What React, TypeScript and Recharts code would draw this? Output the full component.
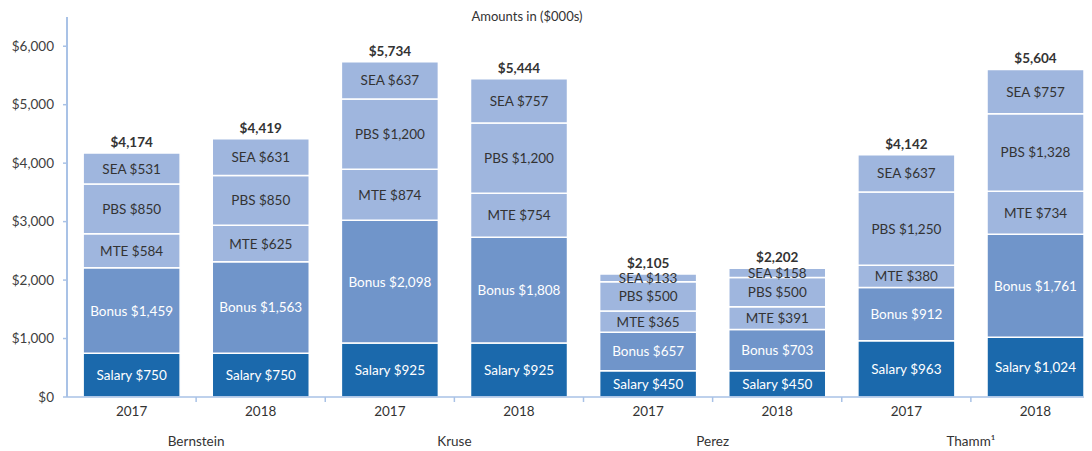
import React from 'react'
import { Bar, BarChart, LabelList, XAxis, YAxis } from 'recharts'

const groups = ['Bernstein', 'Bernstein', 'Kruse', 'Kruse', 'Perez', 'Perez', 'Thamm¹', 'Thamm¹']
const years = ['2017', '2018', '2017', '2018', '2017', '2018', '2017', '2018']

const salary = [750, 750, 925, 925, 450, 450, 963, 1024]
const bonus = [1459, 1563, 2098, 1808, 657, 703, 912, 1761]
const mte = [584, 625, 874, 754, 365, 391, 380, 734]
const pbs = [850, 850, 1200, 1200, 500, 500, 1250, 1328]
const sea = [531, 631, 637, 757, 133, 158, 637, 757]

const yTicks = [0, 1000, 2000, 3000, 4000, 5000, 6000]

const data = years.map((year, i) => ({
  key: `${groups[i]}-${year}`,
  year,
  group: groups[i],
  salary: salary[i],
  bonus: bonus[i],
  mte: mte[i],
  pbs: pbs[i],
  sea: sea[i],
  total: salary[i] + bonus[i] + mte[i] + pbs[i] + sea[i],
}))

const CHART_W = 1100
const CHART_H = 443
const LEFT = 59
const RIGHT_MARGIN = 8
const BAND = (CHART_W - LEFT - RIGHT_MARGIN) / data.length
const FONT = 'Lato, "Open Sans", sans-serif'
const FS = 13.5
const AXIS_COLOR = '#a9c2e6'

const money = (v: number) => '$' + v.toLocaleString('en-US')

function segLabel(name: string, color: string) {
  return (props: any) => {
    const { x, y, width, height, value } = props
    return (
      <text
        x={x + width / 2}
        y={y + height / 2}
        textAnchor="middle"
        dominantBaseline="central"
        fill={color}
        fontSize={FS}
        fontFamily={FONT}
      >
        {`${name} ${money(value)}`}
      </text>
    )
  }
}

function XTick(props: any) {
  const { x, y, payload, index } = props
  const i = index ?? payload.index
  const d = data[i]
  return (
    <g>
      {i > 0 && <line x1={x - BAND / 2} x2={x - BAND / 2} y1={y} y2={y + 5} stroke={AXIS_COLOR} strokeWidth={1.5} />}
      <text x={x} y={y + 14} textAnchor="middle" dominantBaseline="central" fill="#333" fontSize={FS} fontFamily={FONT}>
        {d.year}
      </text>
      {i % 2 === 0 && (
        <text x={x + BAND / 2} y={y + 44} textAnchor="middle" dominantBaseline="central" fill="#333" fontSize={FS} fontFamily={FONT}>
          {d.group}
        </text>
      )}
    </g>
  )
}

function App() {
  return (
    <div style={{ width: 1084, height: CHART_H, overflow: 'hidden' }}>
      <BarChart
        width={CHART_W}
        height={CHART_H}
        data={data}
        margin={{ top: 9, right: RIGHT_MARGIN, left: 0, bottom: 0 }}
        barCategoryGap="12.5%"
      >
        <text x={519} y={8} textAnchor="middle" dominantBaseline="central" fill="#333" fontSize={13} fontFamily={FONT}>
          Amounts in ($000s)
        </text>
        <XAxis
          dataKey="key"
          height={54}
          tickSize={0}
          tickMargin={0}
          interval={0}
          axisLine={{ stroke: AXIS_COLOR, strokeWidth: 1.5 }}
          tickLine={false}
          tick={<XTick />}
        />
        <YAxis
          width={LEFT}
          domain={[0, 6500]}
          ticks={yTicks}
          tickFormatter={money}
          tickSize={4}
          tickMargin={9}
          axisLine={{ stroke: AXIS_COLOR, strokeWidth: 2 }}
          tickLine={{ stroke: AXIS_COLOR, strokeWidth: 1.5 }}
          tick={{ fill: '#404040', fontSize: FS, fontFamily: FONT }}
        />
        <Bar dataKey="salary" stackId="a" fill="#1b69ac" stroke="#fff" strokeWidth={1.5} isAnimationActive={false}>
          <LabelList dataKey="salary" content={segLabel('Salary', '#fff')} />
        </Bar>
        <Bar dataKey="bonus" stackId="a" fill="#7095ca" stroke="#fff" strokeWidth={1.5} isAnimationActive={false}>
          <LabelList dataKey="bonus" content={segLabel('Bonus', '#fff')} />
        </Bar>
        <Bar dataKey="mte" stackId="a" fill="#9fb6de" stroke="#fff" strokeWidth={1.5} isAnimationActive={false}>
          <LabelList dataKey="mte" content={segLabel('MTE', '#333')} />
        </Bar>
        <Bar dataKey="pbs" stackId="a" fill="#9fb6de" stroke="#fff" strokeWidth={1.5} isAnimationActive={false}>
          <LabelList dataKey="pbs" content={segLabel('PBS', '#333')} />
        </Bar>
        <Bar dataKey="sea" stackId="a" fill="#9fb6de" stroke="#fff" strokeWidth={1.5} isAnimationActive={false}>
          <LabelList dataKey="sea" content={segLabel('SEA', '#333')} />
          <LabelList
            dataKey="total"
            position="top"
            offset={6}
            formatter={(v: any) => money(Number(v))}
            fill="#333"
            fontSize={FS}
            fontWeight="bold"
            fontFamily={FONT}
          />
        </Bar>
      </BarChart>
    </div>
  )
}

export default App
